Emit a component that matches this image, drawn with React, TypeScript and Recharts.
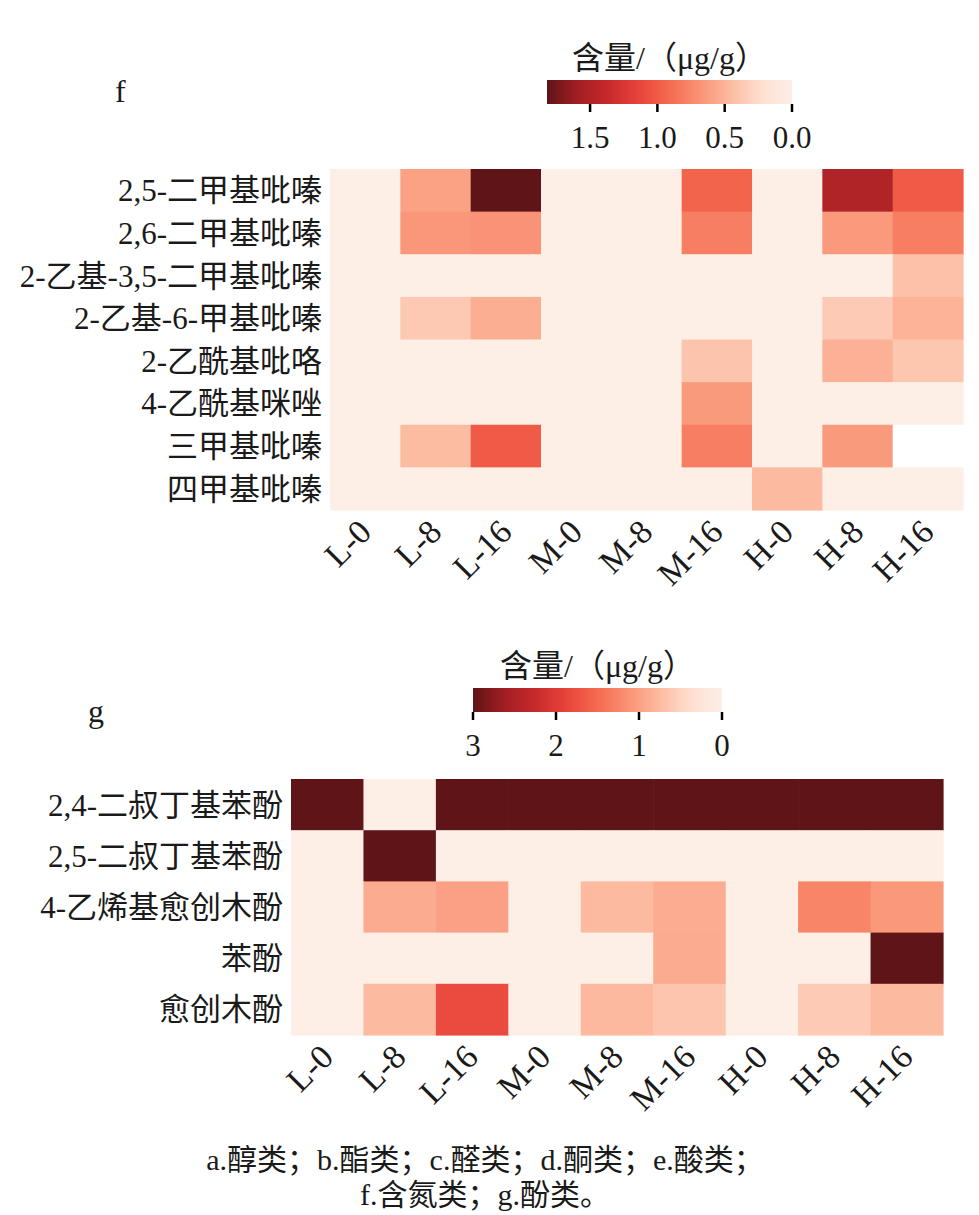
import { ScatterChart, Scatter, XAxis, YAxis } from "recharts";

const FONT = "'Liberation Serif', 'Noto Sans CJK SC', serif";
const TEXT = "#1a1a1a";

// sample columns shared by both panels
const groups = ["L-0", "L-8", "L-16", "M-0", "M-8", "M-16", "H-0", "H-8", "H-16"];

// f: nitrogen compounds
const fCompounds = [
 "2,5-二甲基吡嗪",
 "2,6-二甲基吡嗪",
 "2-乙基-3,5-二甲基吡嗪",
 "2-乙基-6-甲基吡嗪",
 "2-乙酰基吡咯",
 "4-乙酰基咪唑",
 "三甲基吡嗪",
 "四甲基吡嗪",
];
const fValues: (number | null)[][] = [
 [0, 0.6, 1.82, 0, 0, 0.95, 0, 1.5, 1.0],
 [0, 0.66, 0.68, 0, 0, 0.8, 0, 0.65, 0.8],
 [0, 0, 0, 0, 0, 0, 0, 0, 0.42],
 [0, 0.37, 0.53, 0, 0, 0, 0, 0.36, 0.5],
 [0, 0, 0, 0, 0, 0.4, 0, 0.51, 0.39],
 [0, 0, 0, 0, 0, 0.64, 0, 0, 0],
 [0, 0.45, 1.0, 0, 0, 0.8, 0, 0.64, null],
 [0, 0, 0, 0, 0, 0, 0.46, 0, 0],
];
const fBarTicks = [1.5, 1.0, 0.5, 0.0];

// g: phenols
const gCompounds = ["2,4-二叔丁基苯酚", "2,5-二叔丁基苯酚", "4-乙烯基愈创木酚", "苯酚", "愈创木酚"];
const gValues: (number | null)[][] = [
 [3.6, 0, 3.9, 3.4, 3.8, 3.5, 3.7, 3.6, 3.9],
 [0, 3.5, 0, 0, 0, 0, 0, 0, 0],
 [0, 0.9, 1.0, 0, 0.75, 0.89, 0, 1.26, 1.08],
 [0, 0, 0, 0, 0, 0.9, 0, 0, 3.3],
 [0, 0.75, 1.8, 0, 0.77, 0.65, 0, 0.6, 0.75],
];
const gBarTicks = [3, 2, 1, 0];

// Reds, toned a little to match the printed figure
const REDS = ["#fdeee6", "#fee0d2", "#fcbba1", "#fa9375", "#f56b50", "#e8433a", "#c72a2c", "#a11e22", "#5f1417"];

function hexToRgb(h: string) {
 const n = parseInt(h.slice(1), 16);
 return [(n >> 16) & 255, (n >> 8) & 255, n & 255];
}

function reds(t: number) {
 const c = Math.max(0, Math.min(1, t)) * (REDS.length - 1);
 const i = Math.min(Math.floor(c), REDS.length - 2);
 const f = c - i;
 const a = hexToRgb(REDS[i]);
 const b = hexToRgb(REDS[i + 1]);
 const m = a.map((v, k) => Math.round(v + (b[k] - v) * f));
 return `rgb(${m[0]},${m[1]},${m[2]})`;
}

function toPoints(values: (number | null)[][]) {
 return values.flatMap((row, r) => row.map((v, c) => ({ x: c, y: r, v })));
}

const XTick = (props: any) => {
 const { x, y, payload } = props;
 return (
  <g transform={`translate(${x + 8},${y + 16})`}>
   <text
    textAnchor="end"
    transform="rotate(-45)"
    fontSize={34}
    fontFamily={FONT}
    fill={TEXT}
   >
    {groups[payload.value]}
   </text>
  </g>
 );
};

interface HeatmapProps {
 top: number;
 rows: string[];
 values: (number | null)[][];
 vmax: number;
 left: number;
 right: number;
 plotTop: number;
 plotBottom: number;
}

function Heatmap({ top, rows, values, vmax, left, right, plotTop, plotBottom }: HeatmapProps) {
 const xAxisH = 100;
 const height = plotBottom - top + xAxisH;
 const cw = (right - left) / groups.length;
 const ch = (plotBottom - plotTop) / rows.length;
 const data = toPoints(values);
 return (
  <div style={{ position: "absolute", left: 0, top }}>
   <ScatterChart
    width={979}
    height={height}
    margin={{ top: plotTop - top, right: 979 - right, bottom: 0, left: 0 }}
   >
    <XAxis
     type="number"
     dataKey="x"
     domain={[-0.5, groups.length - 0.5]}
     ticks={groups.map((_, i) => i)}
     interval={0}
     height={xAxisH}
     axisLine={false}
     tickLine={false}
     tick={<XTick />}
    />
    <YAxis
     type="number"
     dataKey="y"
     domain={[-0.5, rows.length - 0.5]}
     ticks={rows.map((_, i) => i)}
     interval={0}
     reversed
     width={left}
     axisLine={false}
     tickLine={false}
     tickFormatter={(v: number) => rows[v]}
     tick={{ fontSize: 31, fontFamily: FONT, fill: TEXT }}
    />
    <Scatter
     data={data}
     isAnimationActive={false}
     shape={(p: any) => (
      <rect
       x={p.cx - cw / 2}
       y={p.cy - ch / 2}
       width={cw + 0.6}
       height={ch + 0.6}
       fill={p.payload.v == null ? "#ffffff" : reds(p.payload.v / vmax)}
      />
     )}
    />
   </ScatterChart>
  </div>
 );
}

interface ColorbarProps {
 id: string;
 x: number;
 y: number;
 w: number;
 h: number;
 vmax: number;
 ticks: number[];
 digits: number;
}

function Colorbar({ id, x, y, w, h, vmax, ticks, digits }: ColorbarProps) {
 const stops = Array.from({ length: 21 }, (_, i) => i / 20);
 const pos = (v: number) => x + w * (1 - v / vmax);
 return (
  <g>
   <defs>
    <linearGradient id={id} x1="0" y1="0" x2="1" y2="0">
     {stops.map((s) => (
      <stop key={s} offset={s} stopColor={reds(1 - s)} />
     ))}
    </linearGradient>
   </defs>
   <text x={x + w / 2} y={y - 11} textAnchor="middle" fontSize={32} fontFamily={FONT} fill={TEXT}>
    含量/（μg/g）
   </text>
   <rect x={x} y={y} width={w} height={h} fill={`url(#${id})`} />
   {ticks.map((t) => (
    <g key={t}>
     <line x1={pos(t)} x2={pos(t)} y1={y + h} y2={y + h + 8} stroke="#000" strokeWidth={2.5} />
     <text x={pos(t)} y={y + h + 44} textAnchor="middle" fontSize={31} fontFamily={FONT} fill={TEXT}>
      {t.toFixed(digits)}
     </text>
    </g>
   ))}
  </g>
 );
}

export default function App() {
 const fMax = Math.max(...fValues.flat().map((v) => v ?? 0));
 const gMax = 3;
 return (
  <div
   style={{
    position: "absolute",
    left: 0,
    top: 0,
    width: 979,
    height: 1215,
    background: "#fff",
    fontFamily: FONT,
   }}
  >
   <Heatmap top={0} rows={fCompounds} values={fValues} vmax={fMax} left={330} right={963} plotTop={169} plotBottom={510} />
   <Heatmap top={610} rows={gCompounds} values={gValues} vmax={gMax} left={291} right={943} plotTop={779} plotBottom={1035} />
   <svg width={979} height={1215} style={{ position: "absolute", left: 0, top: 0, pointerEvents: "none" }}>
    <text x={115} y={102} fontSize={32} fontFamily={FONT} fill={TEXT}>f</text>
    <text x={88} y={722} fontSize={32} fontFamily={FONT} fill={TEXT}>g</text>
    <Colorbar id="barF" x={547} y={80} w={245} h={24} vmax={fMax} ticks={fBarTicks} digits={1} />
    <Colorbar id="barG" x={473} y={688} w={249} h={24} vmax={gMax} ticks={gBarTicks} digits={0} />
    <text x={485} y={1170} textAnchor="middle" fontSize={30} fontFamily={FONT} fill={TEXT}>
     a.醇类；b.酯类；c.醛类；d.酮类；e.酸类；
    </text>
    <text x={485} y={1205} textAnchor="middle" fontSize={30} fontFamily={FONT} fill={TEXT}>
     f.含氮类；g.酚类。
    </text>
   </svg>
  </div>
 );
}
